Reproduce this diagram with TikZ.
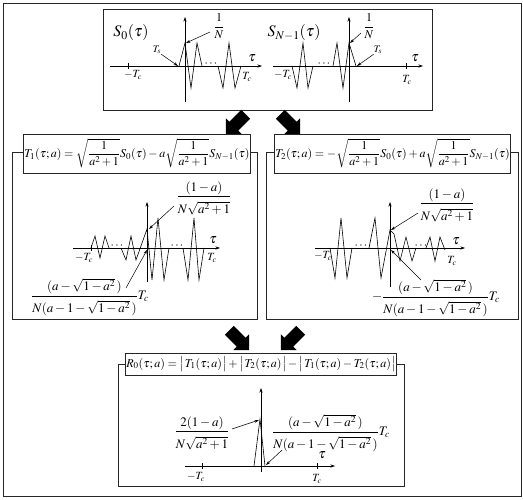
\documentclass[tikz,border=0pt]{standalone}
\usepackage{mathptmx}
\usetikzlibrary{arrows.meta,shapes.arrows}
\newcommand{\dstrut}{\rule{0pt}{15pt}}
\newcommand{\lb}{\big|\mkern2mu}
\newcommand{\rb}{\mkern1mu\big|}
\begin{document}
\begin{tikzpicture}[x=1pt,y=-1pt,
  frame/.style={draw=black!85, line width=0.9pt, inner sep=0pt},
  titlebox/.style={draw=black!85, line width=0.9pt, fill=white, inner sep=1pt, font=\fontsize{12}{14}\selectfont},
  wave/.style={line width=0.6pt, line join=miter},
  axisline/.style={line width=0.6pt, -{Stealth[length=4.5pt,width=3pt]}},
  ptr/.style={line width=0.5pt, -{Stealth[length=4.5pt,width=2.8pt]}},
  blockarr/.style={single arrow, fill=black, draw=none, minimum height=28pt, inner xsep=0pt, inner ysep=6pt, single arrow head extend=5pt, single arrow tip angle=90},
  lbl/.style={inner sep=0pt, font=\fontsize{13}{15}\selectfont},
  small/.style={inner sep=0pt, font=\fontsize{12}{14}\selectfont},
  big/.style={inner sep=0pt, font=\fontsize{16}{19}\selectfont},
  tau/.style={inner sep=0pt, font=\fontsize{14}{16}\selectfont},
  tc/.style={inner sep=0pt, font=\fontsize{11}{13}\selectfont},
  ts/.style={inner sep=0pt, font=\fontsize{10}{12}\selectfont},
  dots/.style={inner sep=0pt, font=\fontsize{12}{14}\selectfont},
]
\useasboundingbox (0,0) rectangle (523,500);
\fill[white] (0,0) rectangle (523,500);
\node[frame, minimum width=518pt, minimum height=493pt] (outer) at (262,249.5) {};

% ---------------- top box ----------------
\node[frame, minimum width=329pt, minimum height=101pt] (top) at (267.5,59.5) {};
% S_0
\draw[axisline] (110,66) -- (262,66);
\draw[axisline] (185,102) -- (185,17);
\draw (128,63) -- (128,69);
\draw[wave] (179,66) -- (185,43) -- (191,88) -- (197,43) -- (202,66);
\node[dots] (d1) at (211,64) {$\cdots$};
\draw[wave] (218,66) -- (223,88) -- (229,43) -- (235,88) -- (241,66);
\node[big] (s0) at (131,33) {$S_0(\tau)$};
\node[ts] (ts1) at (157,50) {$T_s$};
\coordinate (ts1p) at (178,66);
\draw[ptr] (ts1.south east) -- (ts1p);
\node[small] (n1) at (219,26) {$\displaystyle\frac{1}{N}$};
\coordinate (n1p) at (186,43);
\coordinate (n1t) at (210,32);
\draw[ptr] (n1t) -- (n1p);
\node[tau] (tau1) at (252,58) {$\tau$};
\node[tc] (tc1) at (247,77) {$T_c$};
\node[tc] (mtc1) at (133,75) {$-T_c$};
% S_{N-1}
\draw[axisline] (273,66) -- (423,66);
\draw[axisline] (349,102) -- (349,17);
\draw (406,63) -- (406,69);
\draw[wave] (292,66) -- (297,88) -- (303,43) -- (308,88) -- (313,66);
\node[dots] (d2) at (324,64) {$\cdots$};
\draw[wave] (333,66) -- (337,43) -- (343,88) -- (349,43) -- (356,66);
\node[big] (sn) at (294,33) {$S_{N-1}(\tau)$};
\node[ts] (ts2) at (378,50) {$T_s$};
\coordinate (ts2p) at (357,66);
\draw[ptr] (ts2.south west) -- (ts2p);
\node[small] (n2) at (369,26) {$\displaystyle\frac{1}{N}$};
\coordinate (n2p) at (350,43);
\coordinate (n2t) at (361,33);
\draw[ptr] (n2t) -- (n2p);
\node[tau] (tau2) at (415,58) {$\tau$};
\node[tc] (tc2) at (407,80) {$T_c$};
\node[tc] (mtc2) at (283,75) {$-T_c$};

% ---------------- block arrows (top) ----------------
\node[blockarr, rotate=225] (a1) at (238,122) {};
\node[blockarr, rotate=-45] (a2) at (288,122) {};

% ---------------- left middle box ----------------
\node[frame, minimum width=245pt, minimum height=167pt] (f1) at (134.5,235.5) {};
\node[titlebox, minimum width=222pt, minimum height=39pt] (t1) at (137,153.5)
  {$T_1(\tau;a)=\sqrt{\displaystyle\frac{1}{a^2+1}}S_0(\tau)-a\sqrt{\displaystyle\frac{1}{a^2+1}}S_{N-1}(\tau)$};
\draw[axisline] (73,248) -- (220,248);
\draw[axisline] (147,282) -- (147,202);
\draw (91,245) -- (91,251);
\draw[wave] (91,248) -- (95,236) -- (100,258) -- (105,236) -- (109,248);
\node[dots] (d3) at (117,246) {$\cdots$};
\draw[wave] (121,248) -- (126,260) -- (131,236) -- (136,260) -- (147,229) -- (152,280) -- (158,218) -- (164,280) -- (169,248);
\node[dots] (d4) at (177,246) {$\cdots$};
\draw[wave] (183,248) -- (188,280) -- (194,218) -- (199,280) -- (204,248);
\node[tau] (tau3) at (213,240) {$\tau$};
\node[tc] (tc3) at (212,258) {$T_c$};
\node[tc] (mtc3) at (84,258) {$-T_c$};
\node[lbl] (l1) at (204,198) {$\displaystyle\frac{(1-a)}{\dstrut N\sqrt{a^2+1}}$};
\coordinate (l1t) at (174,206);
\coordinate (l1p) at (149,229);
\draw[ptr] (l1t) -- (l1p);
\node[lbl] (l2) at (90,297) {$\displaystyle\frac{(a-\sqrt{1-a^2}\,)}{\dstrut N(a-1-\sqrt{1-a^2}\,)}T_c$};
\coordinate (l2t) at (126,288);
\coordinate (l2p) at (147,250);
\draw[ptr] (l2t) -- (l2p);

% ---------------- right middle box ----------------
\node[frame, minimum width=252pt, minimum height=167pt] (f2) at (392,235.5) {};
\node[titlebox, minimum width=231pt, minimum height=39pt] (t2) at (392.5,153.5)
  {$T_2(\tau;a)=-\sqrt{\displaystyle\frac{1}{a^2+1}}S_0(\tau)+a\sqrt{\displaystyle\frac{1}{a^2+1}}S_{N-1}(\tau)$};
\draw[axisline] (315,248) -- (465,248);
\draw[axisline] (390,287) -- (390,202);
\draw[wave] (330,248) -- (335,278) -- (341,218) -- (347,278) -- (352,248);
\node[dots] (d5) at (361,246) {$\cdots$};
\draw[wave] (369,248) -- (375,218) -- (381,278) -- (390,230) -- (394,234) -- (400,261) -- (406,237) -- (412,261) -- (416,248);
\node[dots] (d6) at (421,246) {$\cdots$};
\draw[wave] (426,248) -- (430,237) -- (435,261) -- (440,237) -- (445,250);
\node[tau] (tau4) at (456,241) {$\tau$};
\node[tc] (tc4) at (452,261) {$T_c$};
\node[tc] (mtc4) at (323,256) {$-T_c$};
\node[lbl] (r1) at (447,205) {$\displaystyle\frac{(1-a)}{\dstrut N\sqrt{a^2+1}}$};
\coordinate (r1t) at (418,213);
\coordinate (r1p) at (391,230);
\draw[ptr] (r1t) -- (r1p);
\node[lbl] (r2) at (436,298) {$\displaystyle-\frac{(a-\sqrt{1-a^2}\,)}{\dstrut N(a-1-\sqrt{1-a^2}\,)}T_c$};
\coordinate (r2t) at (421,280);
\coordinate (r2p) at (391,250);
\draw[ptr] (r2t) -- (r2p);

% ---------------- block arrows (bottom) ----------------
\node[blockarr, rotate=-45] (a3) at (237,338) {};
\node[blockarr, rotate=225] (a4) at (293,338) {};

% ---------------- bottom box ----------------
\node[frame, minimum width=286pt, minimum height=122pt] (f3) at (261,425) {};
\node[titlebox, minimum width=258pt, minimum height=22pt] (t3) at (261,364)
  {$R_0(\tau;a)=\lb T_1(\tau;a)\rb+\lb T_2(\tau;a)\rb-\lb T_1(\tau;a)-T_2(\tau;a)\rb$};
\draw[axisline] (185,466) -- (335,466);
\draw[axisline] (261,472) -- (261,388);
\draw (202,463) -- (202,469);
\draw (317,463) -- (317,469);
\draw[wave] (254,466) -- (260,419) -- (265,466);
\node[tau] (tau5) at (322,455) {$\tau$};
\node[tc] (mtc5) at (196,477) {$-T_c$};
\node[tc] (tc5) at (317,479) {$T_c$};
\node[lbl] (b1) at (202,433) {$\displaystyle\frac{2(1-a)}{\dstrut N\sqrt{a^2+1}}$};
\coordinate (b1t) at (232,429);
\coordinate (b1p) at (259,420);
\draw[ptr] (b1t) -- (b1p);
\node[lbl] (b2) at (331,433) {$\displaystyle\frac{(a-\sqrt{1-a^2}\,)}{\dstrut N(a-1-\sqrt{1-a^2}\,)}T_c$};
\coordinate (b2t) at (282,450);
\coordinate (b2p) at (266,465);
\draw[ptr] (b2t) -- (b2p);
\end{tikzpicture}
\end{document}
